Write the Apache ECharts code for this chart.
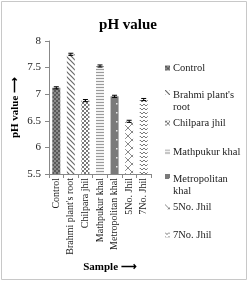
<!DOCTYPE html>
<html><head><meta charset="utf-8">
<script src="https://cdn.jsdelivr.net/npm/echarts@6/dist/echarts.min.js"></script>
<style>html,body{margin:0;padding:0;background:#fff}#c{width:249px;height:282px}</style>
</head><body><div id="c"></div>
<script>
const categories = ["Control", "Brahmi plant's root", "Chilpara jhil", "Mathpukur khal", "Metropolitan khal", "5No. Jhil", "7No. Jhil"];
const phValues = [7.12, 7.75, 6.88, 7.53, 6.96, 6.49, 6.90];
const phErrors = [0.02, 0.02, 0.02, 0.02, 0.02, 0.02, 0.02];
const yTicks = [5.5, 6, 6.5, 7, 7.5, 8];

function pat(w, h, draw) {
  const c = document.createElement('canvas'); c.width = w; c.height = h;
  const g = c.getContext('2d'); draw(g, w, h);
  return { image: c, repeat: 'repeat' };
}
const patterns = [
  pat(4, 4, (g) => { g.fillStyle = '#8c8c8c'; g.fillRect(0,0,4,4); g.fillStyle = '#5a5a5a'; g.fillRect(0,0,2,2); g.fillRect(2,2,2,2); }),
  pat(5, 5, (g) => { g.fillStyle = '#fff'; g.fillRect(0,0,5,5); g.strokeStyle = '#6a6a6a'; g.lineWidth = 1.2; g.beginPath(); g.moveTo(-1,-1); g.lineTo(6,6); g.moveTo(-1,4); g.lineTo(1,6); g.moveTo(4,-1); g.lineTo(6,1); g.stroke(); }),
  pat(4, 4, (g) => { g.fillStyle = '#fff'; g.fillRect(0,0,4,4); g.fillStyle = '#777'; g.fillRect(0,0,2,2); g.fillRect(2,2,2,2); }),
  pat(4, 3, (g) => { g.fillStyle = '#f2f2f2'; g.fillRect(0,0,4,3); g.fillStyle = '#9a9a9a'; g.fillRect(0,0,4,1); }),
  pat(8, 9, (g) => { g.fillStyle = '#7a7a7a'; g.fillRect(0,0,8,9); g.fillStyle = '#e8e8e8'; g.fillRect(4,4,1.5,1.5); }),
  pat(8, 8, (g) => { g.fillStyle = '#fff'; g.fillRect(0,0,8,8); g.strokeStyle = '#8a8a8a'; g.lineWidth = 1; g.beginPath(); g.moveTo(0,0); g.lineTo(8,8); g.moveTo(8,0); g.lineTo(0,8); g.stroke(); }),
  pat(4, 4, (g) => { g.fillStyle = '#fff'; g.fillRect(0,0,4,4); g.strokeStyle = '#7a7a7a'; g.lineWidth = 1; g.beginPath(); g.moveTo(0,0); g.lineTo(2,2); g.lineTo(4,0); g.stroke(); })
];

const legendTops = [62, 89, 117, 146, 173, 201, 229];
const legendLabels = ["Control", "Brahmi plant's\nroot", "Chilpara jhil", "Mathpukur khal", "Metropolitan\nkhal", "5No. Jhil", "7No. Jhil"];

const series = categories.map((name, i) => ({
  name: name,
  type: 'bar',
  barWidth: 8,
  barGap: '-100%',
  itemStyle: { color: patterns[i] },
  data: categories.map((_, j) => j === i ? phValues[i] : '-')
}));
series.push({
  type: 'custom',
  name: 'err',
  renderItem: function (params, api) {
    const x = api.value(0), v = api.value(1), e = api.value(2);
    const hi = api.coord([x, v + e]), lo = api.coord([x, v - e]);
    const w = 2.5;
    return { type: 'group', children: [
      { type: 'line', shape: { x1: hi[0], y1: hi[1], x2: lo[0], y2: lo[1] }, style: { stroke: '#000', lineWidth: 1 } },
      { type: 'line', shape: { x1: hi[0]-w, y1: hi[1], x2: hi[0]+w, y2: hi[1] }, style: { stroke: '#000', lineWidth: 1 } },
      { type: 'line', shape: { x1: lo[0]-w, y1: lo[1], x2: lo[0]+w, y2: lo[1] }, style: { stroke: '#000', lineWidth: 1 } }
    ]};
  },
  data: phValues.map((v, i) => [i, v, phErrors[i]]),
  z: 10
});

const legends = categories.map((name, i) => {
  const twoLine = legendLabels[i].indexOf('\n') >= 0;
  return {
    data: [name],
    left: 165,
    top: legendTops[i],
    padding: 0,
    orient: 'vertical',
    itemWidth: 5,
    itemHeight: twoLine ? 22 : 5,
    itemGap: 0,
    icon: twoLine ? 'path://M0,0L5,0L5,5L0,5Z M0,22L0.01,22L0.01,22.01Z' : 'rect',
    selectedMode: false,
    formatter: () => legendLabels[i],
    textStyle: { fontFamily: 'Liberation Serif', fontSize: 10.5, color: '#222', lineHeight: 12, padding: [0,0,0,-2] }
  };
});

const chart = echarts.init(document.getElementById('c'), null, { renderer: 'canvas' });
chart.setOption({
  animation: false,
  backgroundColor: '#fff',
  title: { text: 'pH value', left: 123, textAlign: 'center', top: 13,
    textStyle: { fontFamily: 'Liberation Serif', fontSize: 15, fontWeight: 'bold', color: '#000' } },
  graphic: [{ type: 'rect', shape: { x: 1.5, y: 1.5, width: 245, height: 278 }, style: { fill: 'none', stroke: '#c8c8c8', lineWidth: 1 }, silent: true }],
  legend: legends,
  grid: { left: 49, right: 98, top: 41, bottom: 108 },
  xAxis: {
    type: 'category', data: categories,
    name: 'Sample \u27F6', nameLocation: 'middle', nameGap: 88,
    nameTextStyle: { fontFamily: 'Liberation Serif', fontSize: 11, fontWeight: 'bold', color: '#000', padding: [0,0,0,20] },
    axisLine: { lineStyle: { color: '#888' } },
    axisTick: { show: true, alignWithLabel: false, length: 4, lineStyle: { color: '#888' } },
    axisLabel: { rotate: 90, interval: 0, margin: 4, fontFamily: 'Liberation Serif', fontSize: 10, color: '#222' }
  },
  yAxis: {
    type: 'value', min: 5.5, max: 8, interval: 0.5,
    name: 'pH value \u27F6', nameLocation: 'middle', nameGap: 28,
    nameTextStyle: { fontFamily: 'Liberation Serif', fontSize: 11, fontWeight: 'bold', color: '#000' },
    axisLine: { show: true, lineStyle: { color: '#888' } },
    axisTick: { show: true, length: 4, lineStyle: { color: '#888' } },
    splitLine: { show: false },
    axisLabel: { margin: 8, fontFamily: 'Liberation Serif', fontSize: 11, color: '#222',
      formatter: (v) => yTicks.indexOf(v) >= 0 ? String(v) : '' }
  },
  series: series
});
</script></body></html>
